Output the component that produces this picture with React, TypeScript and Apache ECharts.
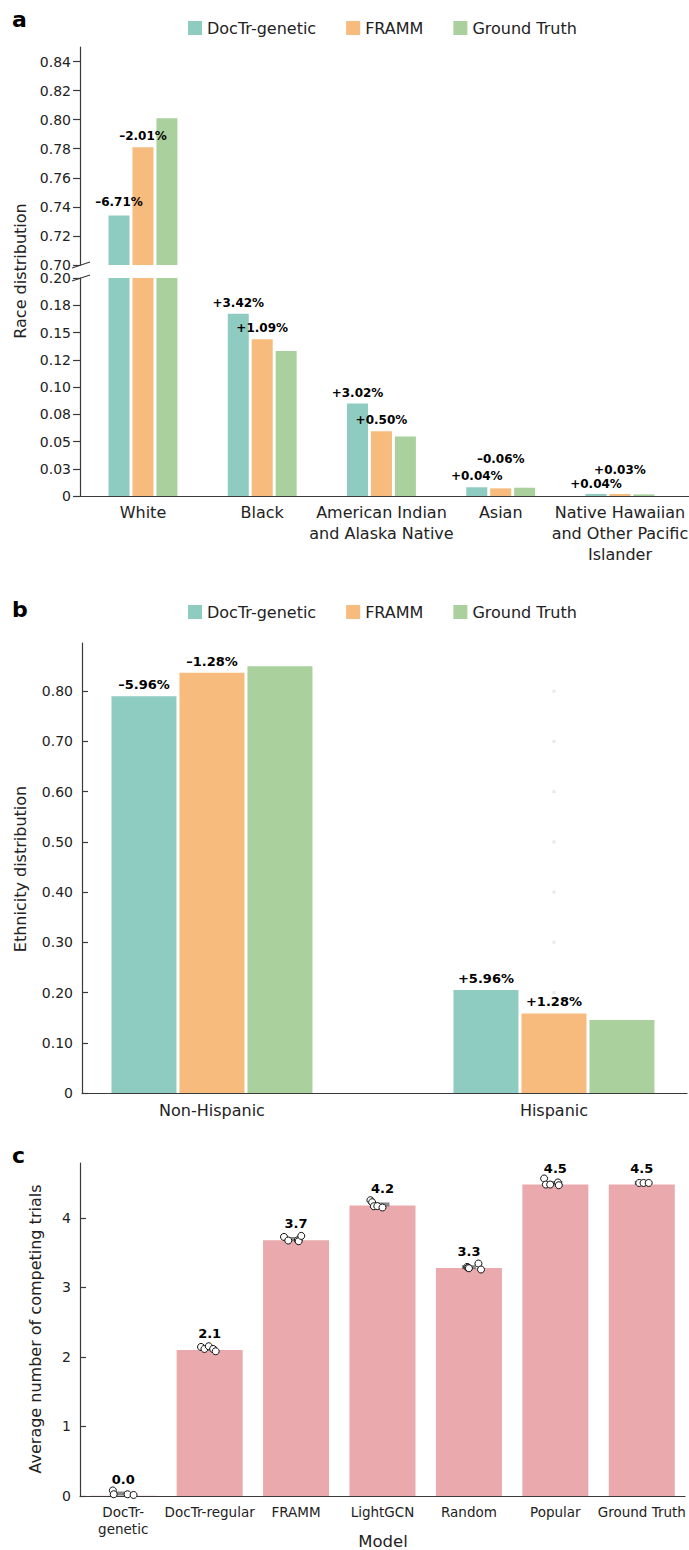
import React, { useEffect, useRef } from "react";
import * as echarts from "echarts";

// ---------- Panel a: race ----------
const raceCategories = [
  "White",
  "Black",
  "American Indian\nand Alaska Native",
  "Asian",
  "Native Hawaiian\nand Other Pacific\nIslander",
];
const raceDocTr = [0.734, 0.1672, 0.0848, 0.008, 0.0019];
const raceFramm = [0.781, 0.1439, 0.0594, 0.007, 0.0018];
const raceTruth = [0.801, 0.133, 0.0545, 0.0076, 0.0015];
const raceDocTrLabels = ["–6.71%", "+3.42%", "+3.02%", "+0.04%", "+0.04%"];
const raceFrammLabels = ["–2.01%", "+1.09%", "+0.50%", "–0.06%", "+0.03%"];
const raceUpperTicks = [0.7, 0.72, 0.74, 0.76, 0.78, 0.8, 0.82, 0.84];
const raceLowerTicks = [0, 0.025, 0.05, 0.075, 0.1, 0.125, 0.15, 0.175, 0.2];
const raceLowerTickLabels = ["0", "0.03", "0.05", "0.08", "0.10", "0.12", "0.15", "0.18", "0.20"];
const raceBreakLow = 0.2;
const raceBreakHigh = 0.7;

// ---------- Panel b: ethnicity ----------
const ethnicityCategories = ["Non-Hispanic", "Hispanic"];
const ethDocTr = [0.7901, 0.2051];
const ethFramm = [0.8369, 0.1583];
const ethTruth = [0.8497, 0.1455];
const ethDocTrLabels = ["–5.96%", "+5.96%"];
const ethFrammLabels = ["–1.28%", "+1.28%"];
const ethTicks = [0, 0.1, 0.2, 0.3, 0.4, 0.5, 0.6, 0.7, 0.8];
const ethDotLevels = [0.2, 0.3, 0.4, 0.5, 0.6, 0.7, 0.8];

// ---------- Panel c: competing trials ----------
const models = ["DocTr-\ngenetic", "DocTr-regular", "FRAMM", "LightGCN", "Random", "Popular", "Ground Truth"];
const modelMeans = [0.004, 2.1, 3.68, 4.18, 3.28, 4.48, 4.48];
const runJitter = [
  [-0.12, -0.11, 0.05, 0.12],
  [-0.1, -0.06, -0.01, 0.04, 0.07],
  [-0.14, -0.09, 0.02, 0.03, 0.06],
  [-0.14, -0.12, -0.1, -0.06, 0.0],
  [-0.02, -0.01, 0.0, 0.11, 0.14],
  [-0.13, -0.11, -0.06, 0.03, 0.04],
  [-0.03, 0.02, 0.08],
];
const runValues = [
  [0.08, 0.025, 0.025, 0.015],
  [2.144, 2.115, 2.154, 2.115, 2.082],
  [3.727, 3.675, 3.679, 3.665, 3.741],
  [4.255, 4.226, 4.168, 4.17, 4.15],
  [3.295, 3.285, 3.276, 3.344, 3.258],
  [4.567, 4.48, 4.48, 4.51, 4.47],
  [4.503, 4.503, 4.503],
];
const countTicks = [0, 1, 2, 3, 4];

// ---------- styles ----------
const FONT = "'DejaVu Sans', sans-serif";
const TEAL = "#8ecbc0";
const ORANGE = "#f6bb7d";
const GREEN = "#a9d09d";
const PINK = "#eaa9ad";
const AXIS = "#3a3a3a";
const TEXT = "#222";
const seriesNames = ["DocTr-genetic", "FRAMM", "Ground Truth"];
const seriesColors = [TEAL, ORANGE, GREEN];
// vertical nudges of the difference labels (px), panel a
const raceDocTrLabelNudge = [-3, 0, 0, 0, 1];
const raceFrammLabelNudge = [0, 0, 0, -18, -13];

function yAxisCfg(gridIndex: number, min: number, max: number, ticks: number[], fmt: (v: number) => string, inside: boolean) {
  return {
    type: "value",
    gridIndex,
    min,
    max,
    axisLine: { show: true, onZero: false, lineStyle: { color: AXIS, width: 1.2 } },
    axisTick: { show: true, inside, length: inside ? 6 : 7, customValues: ticks, lineStyle: { color: AXIS, width: 1.2 } },
    axisLabel: { customValues: ticks, formatter: fmt, margin: 9, fontSize: 14, color: TEXT, fontFamily: FONT },
    splitLine: { show: false },
  };
}

function catValueXAxis(gridIndex: number, min: number, max: number, cats: string[], show: boolean, margin: number) {
  return {
    type: "value",
    gridIndex,
    min,
    max,
    show,
    axisLine: { show: true, onZero: false, lineStyle: { color: AXIS, width: 1.2 } },
    axisTick: { show: false },
    splitLine: { show: false },
    axisLabel: {
      customValues: cats.map((_, i) => i),
      formatter: (v: number) => cats[Math.round(v)] ?? "",
      margin,
      fontSize: 16,
      lineHeight: 21,
      color: TEXT,
      fontFamily: FONT,
    },
  };
}

const diffLabel = (size: number) => ({
  show: false,
  position: "top",
  distance: 5,
  fontSize: size,
  fontWeight: "bold",
  color: "#000",
  fontFamily: FONT,
});

function buildOption() {
  const raceVals = [raceDocTr, raceFramm, raceTruth];
  const raceLabels = [raceDocTrLabels, raceFrammLabels, null];
  const raceNudges = [raceDocTrLabelNudge, raceFrammLabelNudge, null];
  const series: any[] = [];

  // panel a, upper segment
  raceVals.forEach((vals, s) => {
    series.push({
      type: "bar",
      name: seriesNames[s],
      xAxisIndex: 0,
      yAxisIndex: 0,
      barWidth: 21,
      barGap: "14%",
      itemStyle: { color: seriesColors[s] },
      label: diffLabel(12),
      data: vals
        .map((v, i) => {
          if (v <= raceBreakHigh) return null;
          const lab = raceLabels[s];
          return {
            value: [i, v],
            label: lab ? { show: true, formatter: lab[i], offset: [0, raceNudges[s]![i]] } : undefined,
          };
        })
        .filter((d) => d !== null),
    });
  });
  // panel a, lower segment
  raceVals.forEach((vals, s) => {
    series.push({
      type: "bar",
      name: seriesNames[s],
      xAxisIndex: 1,
      yAxisIndex: 1,
      barWidth: 21,
      barGap: "14%",
      itemStyle: { color: seriesColors[s] },
      label: diffLabel(12),
      data: vals.map((v, i) => {
        const lab = raceLabels[s];
        return {
          value: [i, v],
          label: lab && v <= raceBreakLow ? { show: true, formatter: lab[i], offset: [0, raceNudges[s]![i]] } : undefined,
        };
      }),
    });
  });

  // panel b
  series.push({
    type: "scatter",
    xAxisIndex: 2,
    yAxisIndex: 2,
    symbol: "rect",
    symbolSize: 3,
    z: 1,
    itemStyle: { color: "#e2e2e2" },
    silent: true,
    data: ethDotLevels.map((y) => [1, y]),
  });
  const ethVals = [ethDocTr, ethFramm, ethTruth];
  const ethLabels = [ethDocTrLabels, ethFrammLabels, null];
  ethVals.forEach((vals, s) => {
    series.push({
      type: "bar",
      name: seriesNames[s],
      xAxisIndex: 2,
      yAxisIndex: 2,
      barWidth: 65,
      barGap: "4.6%",
      z: 2,
      itemStyle: { color: seriesColors[s] },
      label: diffLabel(13),
      data: vals.map((v, i) => {
        const lab = ethLabels[s];
        return { value: [i, v], label: lab ? { show: true, formatter: lab[i] } : undefined };
      }),
    });
  });

  // panel c
  series.push({
    type: "bar",
    xAxisIndex: 3,
    yAxisIndex: 3,
    barWidth: 66,
    itemStyle: { color: PINK },
    label: {
      show: true,
      position: "top",
      distance: 10,
      fontSize: 13,
      fontWeight: "bold",
      color: "#000",
      fontFamily: FONT,
      formatter: (p: any) => Number(p.value).toFixed(1),
    },
    data: modelMeans,
  });
  series.push({
    type: "scatter",
    xAxisIndex: 4,
    yAxisIndex: 3,
    symbol: "rect",
    symbolSize: [14, 4],
    z: 3,
    itemStyle: { color: "#6b6b6b" },
    data: runValues.map((vals, i) => [i, vals.reduce((a, b) => a + b, 0) / vals.length]),
  });
  const pts: number[][] = [];
  runValues.forEach((vals, i) => vals.forEach((v, j) => pts.push([i + runJitter[i][j], v])));
  series.push({
    type: "scatter",
    xAxisIndex: 4,
    yAxisIndex: 3,
    symbol: "circle",
    symbolSize: 7,
    z: 4,
    itemStyle: { color: "#ffffff", borderColor: "#111", borderWidth: 1, opacity: 1 },
    data: pts,
  });

  const legendCfg = (top: number) => ({
    top,
    left: 183,
    orient: "horizontal",
    itemWidth: 14,
    itemHeight: 14,
    itemGap: 30,
    icon: "rect",
    selectedMode: false,
    textStyle: { fontSize: 16, color: TEXT, fontFamily: FONT },
    data: seriesNames.map((n, i) => ({ name: n, itemStyle: { color: seriesColors[i] } })),
  });

  const yName = (text: string, x: number, y: number) => ({
    type: "text",
    x,
    y,
    rotation: Math.PI / 2,
    style: { text, fontSize: 16, fontFamily: FONT, fill: TEXT, align: "center", verticalAlign: "middle" },
  });
  const letter = (text: string, y: number) => ({
    type: "text",
    x: 12,
    y,
    style: { text, fontSize: 22, fontWeight: "bold", fontFamily: FONT, fill: "#000", align: "left", verticalAlign: "middle" },
  });

  return {
    animation: false,
    backgroundColor: "#ffffff",
    textStyle: { fontFamily: FONT },
    legend: [legendCfg(15), legendCfg(599)],
    grid: [
      { left: 80, right: 0, top: 47, height: 218, outerBoundsMode: "none", containLabel: false },
      { left: 80, right: 0, top: 278, height: 218, outerBoundsMode: "none", containLabel: false },
      { left: 82, right: 2, top: 643, height: 450, outerBoundsMode: "none", containLabel: false },
      { left: 80, right: 4, top: 1163, height: 333, outerBoundsMode: "none", containLabel: false },
    ],
    xAxis: [
      catValueXAxis(0, -0.528, 4.579, raceCategories, false, 6),
      catValueXAxis(1, -0.528, 4.579, raceCategories, true, 6),
      catValueXAxis(2, -0.38, 1.389, ethnicityCategories, true, 7),
      {
        type: "category",
        gridIndex: 3,
        data: models,
        boundaryGap: true,
        axisLine: { show: true, onZero: false, lineStyle: { color: AXIS, width: 1.2 } },
        axisTick: { show: false },
        axisLabel: { interval: 0, margin: 7, fontSize: 13.5, lineHeight: 17, color: TEXT, fontFamily: FONT },
        splitLine: { show: false },
      },
      { type: "value", gridIndex: 3, min: -0.5, max: 6.5, show: false },
    ],
    yAxis: [
      yAxisCfg(0, raceBreakHigh, 0.85, raceUpperTicks, (v: number) => v.toFixed(2), false),
      yAxisCfg(
        1,
        0,
        raceBreakLow,
        raceLowerTicks,
        (v: number) => {
          const i = raceLowerTicks.findIndex((t) => Math.abs(t - v) < 1e-9);
          return i >= 0 ? raceLowerTickLabels[i] : "";
        },
        false
      ),
      yAxisCfg(2, 0, 0.896, ethTicks, (v: number) => (Math.abs(v) < 1e-9 ? "0" : v.toFixed(2)), true),
      yAxisCfg(3, 0, 4.79, countTicks, (v: number) => String(Math.round(v)), true),
    ],
    series,
    graphic: [
      letter("a", 19.5),
      letter("b", 609.5),
      letter("c", 1155.5),
      yName("Race distribution", 20, 271),
      yName("Ethnicity distribution", 20, 869),
      yName("Average number of competing trials", 35, 1329),
      {
        type: "text",
        x: 383,
        y: 1541,
        style: { text: "Model", fontSize: 16.5, fontFamily: FONT, fill: TEXT, align: "center", verticalAlign: "middle" },
      },
      { type: "line", shape: { x1: 72, y1: 268, x2: 90, y2: 262 }, style: { stroke: AXIS, lineWidth: 1.2 } },
      { type: "line", shape: { x1: 72, y1: 281, x2: 90, y2: 275 }, style: { stroke: AXIS, lineWidth: 1.2 } },
    ],
  };
}

export default function App() {
  const ref = useRef<HTMLDivElement>(null);
  useEffect(() => {
    if (!ref.current) return;
    const chart = echarts.init(ref.current, undefined, { renderer: "svg" });
    chart.setOption(buildOption() as any);
    return () => chart.dispose();
  }, []);
  return (
    <div
      ref={ref}
      style={{ position: "absolute", left: 0, top: 0, width: 689, height: 1550, background: "#fff" }}
    />
  );
}
